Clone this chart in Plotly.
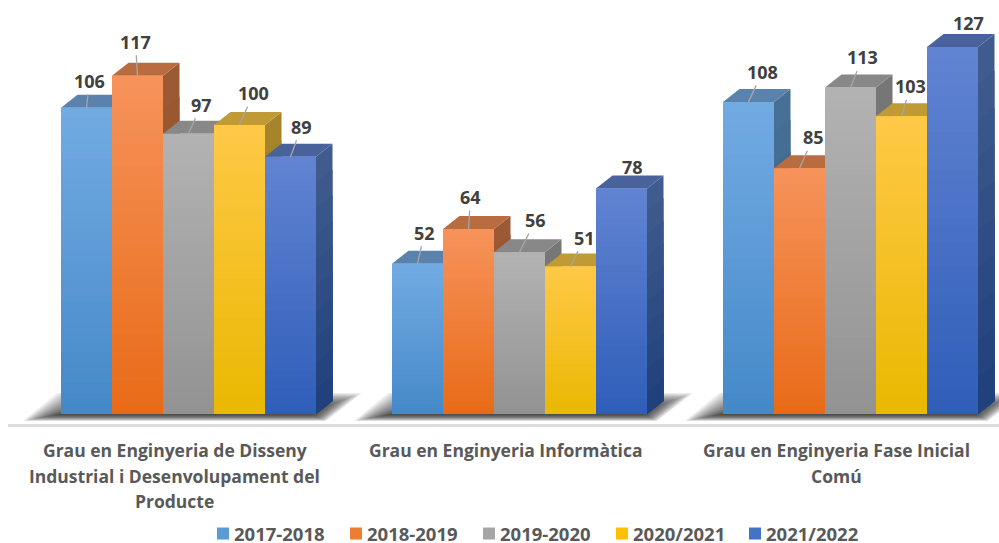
import plotly.graph_objects as go

CATEGORIES = ["Grau en Enginyeria de Disseny Industrial i Desenvolupament del Producte",
              "Grau en Enginyeria Informàtica",
              "Grau en Enginyeria Fase Inicial Comú"]
CATEGORY_LINES = [["Grau en Enginyeria de Disseny", "Industrial i Desenvolupament del", "Producte"],
                  ["Grau en Enginyeria Informàtica"],
                  ["Grau en Enginyeria Fase Inicial", "Comú"]]
SERIES = ["2017-2018", "2018-2019", "2019-2020", "2020/2021", "2021/2022"]
V_2017 = [106, 52, 108]
V_2018 = [117, 64, 85]
V_2019 = [97, 56, 113]
V_2020 = [100, 51, 103]
V_2021 = [89, 78, 127]
VALUES = [V_2017, V_2018, V_2019, V_2020, V_2021]

# (top colour, bottom colour) of front, side, and top face colour
FRONT = [((114, 170, 226), (68, 136, 200)), ((246, 146, 90), (232, 106, 22)), ((178, 178, 178), (146, 146, 146)),
         ((255, 200, 70), (233, 184, 0)), ((97, 131, 210), (46, 93, 184))]
SIDE = [((72, 112, 150), (42, 88, 136)), ((156, 90, 52), (140, 72, 22)), ((118, 118, 118), (96, 96, 96)),
        ((166, 132, 42), (150, 118, 10)), ((64, 92, 142), (30, 62, 122))]
TOP = ["#5A82AC", "#B96C40", "#888888", "#C09A35", "#4A629C"]
MID = ["#5B9BD5", "#ED7D31", "#A5A5A5", "#FFC000", "#4472C4"]

# label offset from each bar's top-centre, pixels
LABEL_DX = [[3, 7, 14], [-2, 2, 14], [13, 16, 12], [14, 14, 9], [11, 11, 16]]
LABEL_DY = [[-27, -31, -30], [-34, -32, -31], [-29, -32, -30], [-32, -29, -30], [-30, -22, -24]]

W, H = 999, 543
L, R, T, AXIS_Y = 8, 999, 0, 424
PX_X = 331.0      # px per category
PX_Y = 2.89       # px per value unit
BASE_Y = 414
X_ZERO = 188.5
xr = [(L - X_ZERO) / PX_X, (R - X_ZERO) / PX_X]
yr = [(BASE_Y - AXIS_Y) / PX_Y, BASE_Y / PX_Y]
BW = 51.0 / PX_X
DX, DY = 16.5 / PX_X, 13.0 / PX_Y


def lerp(a, b, t):
    return "rgb(%d,%d,%d)" % tuple(round(a[i] + (b[i] - a[i]) * t) for i in range(3))


def poly(pts):
    return "M" + " L".join(f"{x:.5f},{y:.4f}" for x, y in pts) + " Z"


shapes = []
# floor shadows: stacked translucent polygons, shrinking towards the bars
for c in range(3):
    l, r = c - 2.5 * BW, c + 2.5 * BW
    n = 24
    for k in range(n):
        px = k * 1.2
        y0 = (-7 + px * 0.25) / PX_Y
        y1 = (21 - px * 0.62) / PX_Y
        pts = [((-38 + px * 1.3) / PX_X + l, y0), (r + (10 - px * 0.5) / PX_X, y0),
               (r + (46 - px * 1.7) / PX_X, y1), (l + (-4 + px * 1.6) / PX_X, y1)]
        shapes.append(dict(type="path", path=poly(pts), xref="x", yref="y", layer="below",
                           fillcolor="rgba(40,40,40,0.07)", line_width=0))

# side and top faces, left to right
for c in range(3):
    for s in range(5):
        v = VALUES[s][c]
        x0 = c + (s - 2.5) * BW
        x1 = x0 + BW
        steps = 10
        for k in range(steps):
            yt = v * (1 - k / steps)
            pts = [(x1, yt), (x1 + DX, yt + DY), (x1 + DX, DY), (x1, 0)]
            shapes.append(dict(type="path", path=poly(pts), xref="x", yref="y", layer="below",
                               fillcolor=lerp(SIDE[s][0], SIDE[s][1], k / steps), line_width=0))
        pts = [(x0, v), (x0 + DX, v + DY), (x1 + DX, v + DY), (x1, v)]
        shapes.append(dict(type="path", path=poly(pts), xref="x", yref="y", layer="below",
                           fillcolor=TOP[s], line_width=0))
# gradient on the front faces
for c in range(3):
    for s in range(5):
        v = VALUES[s][c]
        x0 = c + (s - 2.5) * BW
        steps = 30
        for k in range(steps):
            shapes.append(dict(type="rect", xref="x", yref="y", layer="above", x0=x0, x1=x0 + BW,
                               y0=0, y1=v * (1 - k / steps),
                               fillcolor=lerp(FRONT[s][0], FRONT[s][1], k / steps), line_width=0))

fig = go.Figure()
for s, name in enumerate(SERIES):
    fig.add_bar(x=CATEGORIES, y=VALUES[s], name=name, marker=dict(color=MID[s], line_width=0))

ann = []
for s in range(5):
    for c in range(3):
        hide = VALUES[s][c] in (78, 127)
        ann.append(dict(x=c + (s - 2) * BW, y=VALUES[s][c], xref="x", yref="y", text=f"<b>{VALUES[s][c]}</b>",
                        showarrow=True, arrowhead=0, arrowwidth=1.3,
                        arrowcolor="rgba(0,0,0,0)" if hide else "#A6A6A6",
                        ax=LABEL_DX[s][c], ay=LABEL_DY[s][c], axref="pixel", ayref="pixel",
                        font=dict(family="Open Sans", size=18, color="#404040")))
LINE_Y = [450, 476, 501]
for c, lines in enumerate(CATEGORY_LINES):
    for i, t in enumerate(lines):
        ann.append(dict(x=c, xref="x", xshift=-14, y=1 - LINE_Y[i] / AXIS_Y, yref="paper", yanchor="middle",
                        text=f"<b>{t}</b>", showarrow=False,
                        font=dict(family="Open Sans", size=17.5, color="#595959")))

fig.update_layout(
    width=W, height=H, autosize=False, paper_bgcolor="white", plot_bgcolor="rgba(0,0,0,0)",
    margin=dict(l=L, r=W - R, t=T, b=H - AXIS_Y, pad=0),
    barmode="group", bargap=1 - 5 * BW, bargroupgap=0,
    xaxis=dict(type="category", range=xr, showgrid=False, showticklabels=False, ticks="",
               showline=True, linecolor="#DCDCDC", linewidth=3, zeroline=False),
    yaxis=dict(range=yr, visible=False, showgrid=False, zeroline=False),
    shapes=shapes, annotations=ann,
    legend=dict(orientation="h", xref="container", yref="container", x=194 / W, y=1 - 515 / H,
                xanchor="left", yanchor="top", traceorder="normal",
                entrywidth=88, entrywidthmode="pixels", itemclick=False,
                font=dict(family="Open Sans", size=18.5, color="#595959", weight="bold")),
)
fig.write_html("out.html", config=dict(displayModeBar=False),
               post_script="document.body.style.margin='0';document.documentElement.style.margin='0';"
                           "document.querySelectorAll('.legendsymbols').forEach(function(e){"
                           "e.setAttribute('transform','translate(9,0)');});")
